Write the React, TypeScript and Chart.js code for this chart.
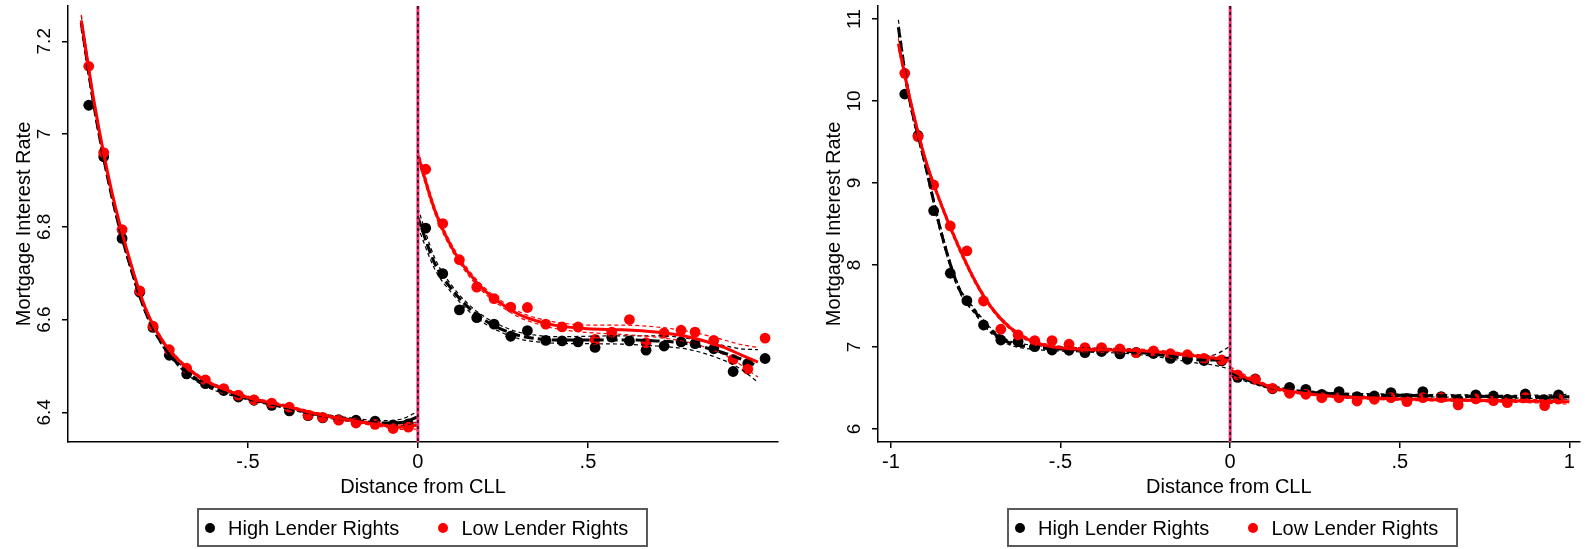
import React, { useEffect, useRef } from "react";
import { Chart, registerables } from "chart.js";

Chart.register(...registerables);

const FONT = '"Liberation Sans", Arial, Helvetica, sans-serif';
const RED = "#ff0000";
const BLACK = "#000000";
const SERIES_NAMES = ["High Lender Rights", "Low Lender Rights"];
const X_TITLE = "Distance from CLL";
const Y_TITLE = "Mortgage Interest Rate";
const CUTOFF = 0;

// ---------- Left panel ----------
const X_TICKS_1 = [-0.5, 0, 0.5];
const X_TICK_LABELS_1 = ["-.5", "0", ".5"];
const Y_TICKS_1 = [6.4, 6.6, 6.8, 7, 7.2];
const Y_TICK_LABELS_1 = ["6.4", "6.6", "6.8", "7", "7.2"];

const BIN_X_1 = [
  -0.968, -0.924, -0.87, -0.818, -0.779, -0.731, -0.68, -0.625, -0.571, -0.528,
  -0.482, -0.43, -0.378, -0.323, -0.28, -0.233, -0.182, -0.126, -0.073, -0.028,
  0.023, 0.073, 0.122, 0.173, 0.224, 0.273, 0.322, 0.376, 0.424, 0.471,
  0.521, 0.57, 0.622, 0.671, 0.724, 0.774, 0.815, 0.87, 0.927, 0.97, 1.021,
];
const HIGH_1 = [
  7.062, 6.951, 6.775, 6.659, 6.583, 6.523, 6.483, 6.462, 6.447, 6.433,
  6.426, 6.415, 6.403, 6.393, 6.388, 6.384, 6.383, 6.381, 6.373, 6.375,
  6.797, 6.699, 6.621, 6.604, 6.59, 6.564, 6.576, 6.555, 6.554, 6.552,
  6.54, 6.562, 6.554, 6.534, 6.543, 6.552, 6.548, 6.537, 6.488, 6.505, 6.516,
];
const LOW_1 = [
  7.146, 6.96, 6.794, 6.662, 6.586, 6.535, 6.495, 6.47, 6.451, 6.437,
  6.427, 6.42, 6.411, 6.394, 6.389, 6.383, 6.377, 6.374, 6.365, 6.368,
  6.924, 6.807, 6.729, 6.67, 6.645, 6.627, 6.626, 6.59, 6.584, 6.584,
  6.557, 6.573, 6.6, 6.55, 6.571, 6.577, 6.573, 6.555, 6.514, 6.493, 6.56,
];

const FIT_XL_1 = [-0.99, -0.95, -0.9, -0.85, -0.8, -0.75, -0.7, -0.65, -0.6, -0.5, -0.4, -0.3, -0.2, -0.1, -0.05, 0];
const LOW_FIT_L_1 = [7.245, 7.06, 6.875, 6.735, 6.622, 6.553, 6.51, 6.48, 6.459, 6.432, 6.415, 6.397, 6.383, 6.372, 6.368, 6.372];
const LOW_HI_L_1 = [7.257, 7.066, 6.879, 6.739, 6.626, 6.557, 6.513, 6.483, 6.462, 6.435, 6.418, 6.4, 6.386, 6.376, 6.373, 6.38];
const LOW_LO_L_1 = [7.233, 7.054, 6.871, 6.731, 6.618, 6.549, 6.507, 6.477, 6.456, 6.429, 6.412, 6.394, 6.38, 6.368, 6.363, 6.364];
const HIGH_FIT_L_1 = [7.24, 7.05, 6.865, 6.725, 6.615, 6.545, 6.5, 6.47, 6.452, 6.43, 6.413, 6.396, 6.384, 6.377, 6.378, 6.39];
const HIGH_HI_L_1 = [7.255, 7.058, 6.87, 6.73, 6.619, 6.549, 6.504, 6.474, 6.456, 6.433, 6.416, 6.399, 6.388, 6.382, 6.385, 6.402];
const HIGH_LO_L_1 = [7.225, 7.042, 6.86, 6.72, 6.611, 6.541, 6.496, 6.466, 6.448, 6.427, 6.41, 6.393, 6.38, 6.372, 6.371, 6.378];

const FIT_XR_1 = [0, 0.05, 0.1, 0.15, 0.2, 0.25, 0.3, 0.35, 0.4, 0.5, 0.6, 0.7, 0.8, 0.9, 0.95, 1.0];
const LOW_FIT_R_1 = [6.955, 6.835, 6.755, 6.7, 6.66, 6.632, 6.61, 6.597, 6.588, 6.58, 6.578, 6.573, 6.562, 6.54, 6.524, 6.508];
const LOW_HI_R_1 = [6.965, 6.842, 6.761, 6.706, 6.666, 6.638, 6.616, 6.603, 6.595, 6.588, 6.588, 6.584, 6.574, 6.556, 6.546, 6.54];
const LOW_LO_R_1 = [6.945, 6.828, 6.749, 6.694, 6.654, 6.626, 6.604, 6.591, 6.581, 6.572, 6.568, 6.562, 6.55, 6.524, 6.502, 6.476];
const HIGH_FIT_R_1 = [6.82, 6.72, 6.665, 6.625, 6.597, 6.578, 6.565, 6.559, 6.556, 6.556, 6.556, 6.554, 6.547, 6.528, 6.515, 6.5];
const HIGH_HI_R_1 = [6.84, 6.732, 6.673, 6.632, 6.604, 6.585, 6.572, 6.566, 6.563, 6.564, 6.565, 6.565, 6.559, 6.544, 6.537, 6.535];
const HIGH_LO_R_1 = [6.8, 6.708, 6.657, 6.618, 6.59, 6.571, 6.558, 6.552, 6.549, 6.548, 6.547, 6.543, 6.535, 6.512, 6.493, 6.465];

// ---------- Right panel ----------
const X_TICKS_2 = [-1, -0.5, 0, 0.5, 1];
const X_TICK_LABELS_2 = ["-1", "-.5", "0", ".5", "1"];
const Y_TICKS_2 = [6, 7, 8, 9, 10, 11];
const Y_TICK_LABELS_2 = ["6", "7", "8", "9", "10", "11"];

const BIN_X_2 = [
  -0.959, -0.92, -0.874, -0.825, -0.776, -0.727, -0.676, -0.625, -0.576, -0.525,
  -0.475, -0.428, -0.379, -0.325, -0.277, -0.226, -0.176, -0.126, -0.077, -0.025,
  0.022, 0.074, 0.125, 0.175, 0.223, 0.27, 0.321, 0.374, 0.425, 0.474,
  0.521, 0.568, 0.622, 0.672, 0.724, 0.776, 0.817, 0.87, 0.927, 0.968,
];
const HIGH_2 = [
  10.085, 9.58, 8.662, 7.899, 7.565, 7.268, 7.085, 7.065, 7.004, 6.963,
  6.96, 6.93, 6.945, 6.915, 6.935, 6.92, 6.86, 6.85, 6.835, 6.83,
  6.63, 6.61, 6.49, 6.508, 6.484, 6.423, 6.455, 6.394, 6.402, 6.443,
  6.374, 6.455, 6.395, 6.354, 6.415, 6.402, 6.36, 6.427, 6.354, 6.415,
];
const LOW_2 = [
  10.338, 9.565, 8.976, 8.476, 8.171, 7.561, 7.216, 7.146, 7.077, 7.077,
  7.033, 6.992, 6.992, 6.976, 6.93, 6.951, 6.918, 6.905, 6.86, 6.841,
  6.659, 6.604, 6.496, 6.435, 6.423, 6.382, 6.382, 6.341, 6.362, 6.382,
  6.333, 6.382, 6.382, 6.293, 6.366, 6.345, 6.321, 6.382, 6.285, 6.366,
];

const FIT_XL_2 = [-0.978, -0.95, -0.9, -0.85, -0.8, -0.75, -0.7, -0.65, -0.6, -0.55, -0.5, -0.4, -0.3, -0.2, -0.1, -0.05, 0];
const LOW_FIT_L_2 = [10.7, 10.14, 9.31, 8.72, 8.22, 7.79, 7.46, 7.24, 7.1, 7.025, 6.99, 6.965, 6.96, 6.935, 6.89, 6.865, 6.835];
const LOW_HI_L_2 = [10.76, 10.18, 9.34, 8.75, 8.25, 7.815, 7.48, 7.26, 7.12, 7.045, 7.01, 6.985, 6.98, 6.955, 6.91, 6.89, 6.865];
const LOW_LO_L_2 = [10.64, 10.1, 9.28, 8.69, 8.19, 7.765, 7.44, 7.22, 7.08, 7.005, 6.97, 6.945, 6.94, 6.915, 6.87, 6.84, 6.805];
const HIGH_FIT_L_2 = [10.9, 10.13, 9.25, 8.37, 7.72, 7.42, 7.18, 7.05, 7.005, 6.985, 6.975, 6.96, 6.945, 6.9, 6.845, 6.84, 6.87];
const HIGH_HI_L_2 = [10.99, 10.19, 9.29, 8.41, 7.75, 7.45, 7.21, 7.075, 7.03, 7.01, 7.0, 6.985, 6.97, 6.93, 6.885, 6.9, 7.01];
const HIGH_LO_L_2 = [10.81, 10.07, 9.21, 8.33, 7.69, 7.39, 7.15, 7.025, 6.98, 6.96, 6.95, 6.935, 6.92, 6.87, 6.805, 6.78, 6.73];

const FIT_XR_2 = [0, 0.05, 0.1, 0.15, 0.2, 0.3, 0.4, 0.5, 0.6, 0.7, 0.8, 0.9, 1.0];
const LOW_FIT_R_2 = [6.72, 6.62, 6.54, 6.48, 6.445, 6.4, 6.38, 6.365, 6.357, 6.35, 6.343, 6.338, 6.333];
const LOW_HI_R_2 = [6.76, 6.645, 6.56, 6.5, 6.46, 6.415, 6.395, 6.38, 6.372, 6.365, 6.358, 6.358, 6.363];
const LOW_LO_R_2 = [6.68, 6.595, 6.52, 6.46, 6.43, 6.385, 6.365, 6.35, 6.342, 6.335, 6.328, 6.318, 6.303];
const HIGH_FIT_R_2 = [6.69, 6.6, 6.53, 6.485, 6.46, 6.43, 6.415, 6.41, 6.405, 6.4, 6.395, 6.392, 6.392];
const HIGH_HI_R_2 = [6.73, 6.625, 6.55, 6.505, 6.475, 6.445, 6.43, 6.425, 6.42, 6.415, 6.41, 6.412, 6.422];
const HIGH_LO_R_2 = [6.65, 6.575, 6.51, 6.465, 6.445, 6.415, 6.4, 6.395, 6.39, 6.385, 6.38, 6.372, 6.362];

// ---------- helpers ----------
const pts = (xs: number[], ys: number[]) => xs.map((x, i) => ({ x, y: ys[i] }));

const scatterDs = (label: string, xs: number[], ys: number[], color: string, order: number) => ({
  type: "scatter" as const,
  label,
  data: pts(xs, ys),
  backgroundColor: color,
  borderColor: color,
  borderWidth: 0,
  pointRadius: 5.4,
  pointHoverRadius: 5.4,
  showLine: false,
  order,
});

const lineDs = (xs: number[], ys: number[], color: string, width: number, dash: number[], order: number) => ({
  type: "line" as const,
  data: pts(xs, ys),
  borderColor: color,
  backgroundColor: color,
  borderWidth: width,
  borderDash: dash,
  pointRadius: 0,
  pointHoverRadius: 0,
  fill: false,
  tension: 0.4,
  cubicInterpolationMode: "monotone" as const,
  order,
});

const cutoffPlugin = {
  id: "cutoffLine",
  afterDatasetsDraw(chart: any) {
    const { ctx, chartArea, scales } = chart;
    const px = scales.x.getPixelForValue(CUTOFF);
    ctx.save();
    ctx.beginPath();
    ctx.moveTo(px, chartArea.top);
    ctx.lineTo(px, chartArea.bottom);
    ctx.strokeStyle = "#e8336e";
    ctx.lineWidth = 3;
    ctx.stroke();
    ctx.setLineDash([3, 3]);
    ctx.strokeStyle = "#2a1016";
    ctx.lineWidth = 1.6;
    ctx.stroke();
    ctx.restore();
  },
};

type PanelProps = {
  width: number;
  height: number;
  left: number;
  yAxisWidth: number;
  yTitlePad: number;
  yTickPad: number;
  padRight: number;
  xMin: number;
  xMax: number;
  yMin: number;
  yMax: number;
  xTicks: number[];
  xTickLabels: string[];
  yTicks: number[];
  yTickLabels: string[];
  datasets: any[];
};

function Panel(p: PanelProps) {
  const ref = useRef<HTMLCanvasElement>(null);
  useEffect(() => {
    if (!ref.current) return;
    const chart = new Chart(ref.current, {
      type: "scatter",
      data: { datasets: p.datasets },
      plugins: [cutoffPlugin],
      options: {
        animation: false,
        responsive: false,
        devicePixelRatio: 1,
        layout: { padding: { top: 6, right: p.padRight, bottom: 50, left: 0 } },
        plugins: { legend: { display: false }, tooltip: { enabled: false } },
        events: [],
        scales: {
          x: {
            type: "linear",
            min: p.xMin,
            max: p.xMax,
            afterBuildTicks: (s: any) => {
              s.ticks = p.xTicks.map((v) => ({ value: v }));
            },
            afterFit: (s: any) => {
              s.height = 57;
              s.paddingLeft = 0;
              s.paddingRight = 0;
            },
            ticks: {
              autoSkip: false,
              maxRotation: 0,
              minRotation: 0,
              padding: 2,
              color: "#000",
              font: { family: FONT, size: 20 },
              callback: (v: any) => {
                const i = p.xTicks.indexOf(Number(v));
                return i >= 0 ? p.xTickLabels[i] : "";
              },
            },
            grid: {
              display: true,
              drawOnChartArea: false,
              drawTicks: true,
              tickLength: 6,
              color: "#000",
              lineWidth: 1.5,
            },
            border: { display: true, color: "#000", width: 1.5 },
            title: {
              display: true,
              text: X_TITLE,
              color: "#000",
              font: { family: FONT, size: 20 },
              padding: { top: 0, bottom: 0 },
            },
          },
          y: {
            type: "linear",
            min: p.yMin,
            max: p.yMax,
            afterBuildTicks: (s: any) => {
              s.ticks = p.yTicks.map((v) => ({ value: v }));
            },
            afterFit: (s: any) => {
              s.width = p.yAxisWidth;
              s.paddingTop = 0;
              s.paddingBottom = 0;
            },
            ticks: {
              autoSkip: false,
              minRotation: 90,
              maxRotation: 90,
              crossAlign: "center",
              padding: p.yTickPad,
              color: "#000",
              font: { family: FONT, size: 19 },
              callback: (v: any) => {
                const i = p.yTicks.indexOf(Number(v));
                return i >= 0 ? p.yTickLabels[i] : "";
              },
            },
            grid: {
              display: true,
              drawOnChartArea: false,
              drawTicks: true,
              tickLength: 6,
              color: "#000",
              lineWidth: 1.5,
            },
            border: { display: true, color: "#000", width: 1.5 },
            title: {
              display: true,
              text: Y_TITLE,
              color: "#000",
              font: { family: FONT, size: 20 },
              padding: { top: p.yTitlePad, bottom: 0 },
            },
          },
        },
      } as any,
    });
    return () => chart.destroy();
  }, []);
  return (
    <canvas
      ref={ref}
      width={p.width}
      height={p.height}
      style={{ position: "absolute", left: p.left, top: 0, width: p.width, height: p.height }}
    />
  );
}

function buildDatasets(
  binX: number[], high: number[], low: number[],
  fxl: number[], lowFitL: number[], lowHiL: number[], lowLoL: number[],
  highFitL: number[], highHiL: number[], highLoL: number[],
  fxr: number[], lowFitR: number[], lowHiR: number[], lowLoR: number[],
  highFitR: number[], highHiR: number[], highLoR: number[],
) {
  const ciDash = [4, 3];
  const blackDash = [10, 4];
  return [
    lineDs(fxl, lowFitL, RED, 3, [], 1),
    lineDs(fxr, lowFitR, RED, 3, [], 1),
    lineDs(fxl, highFitL, BLACK, 3, blackDash, 2),
    lineDs(fxr, highFitR, BLACK, 3, blackDash, 2),
    lineDs(fxl, lowHiL, RED, 1.2, ciDash, 3),
    lineDs(fxl, lowLoL, RED, 1.2, ciDash, 3),
    lineDs(fxr, lowHiR, RED, 1.2, ciDash, 3),
    lineDs(fxr, lowLoR, RED, 1.2, ciDash, 3),
    lineDs(fxl, highHiL, BLACK, 1.2, ciDash, 4),
    lineDs(fxl, highLoL, BLACK, 1.2, ciDash, 4),
    lineDs(fxr, highHiR, BLACK, 1.2, ciDash, 4),
    lineDs(fxr, highLoR, BLACK, 1.2, ciDash, 4),
    scatterDs(SERIES_NAMES[1], binX, low, RED, 5),
    scatterDs(SERIES_NAMES[0], binX, high, BLACK, 6),
  ];
}

function Legend({ left }: { left: number }) {
  const text = (x: number, s: string) => (
    <div
      style={{
        position: "absolute",
        left: left + x,
        top: 518,
        fontFamily: FONT,
        fontSize: 20,
        lineHeight: "20px",
        color: "#000",
        whiteSpace: "nowrap",
      }}
    >
      {s}
    </div>
  );
  const dot = (x: number, color: string) => (
    <div
      style={{
        position: "absolute",
        left: left + x - 5,
        top: 523,
        width: 10,
        height: 10,
        borderRadius: "50%",
        background: color,
      }}
    />
  );
  return (
    <>
      <div
        style={{
          position: "absolute",
          left,
          top: 508,
          width: 451,
          height: 39,
          boxSizing: "border-box",
          border: "2px solid #5a5a5a",
        }}
      />
      {dot(13, BLACK)}
      {text(31, SERIES_NAMES[0])}
      {dot(246, RED)}
      {text(264.5, SERIES_NAMES[1])}
    </>
  );
}

export default function App() {
  const ds1 = buildDatasets(
    BIN_X_1, HIGH_1, LOW_1,
    FIT_XL_1, LOW_FIT_L_1, LOW_HI_L_1, LOW_LO_L_1, HIGH_FIT_L_1, HIGH_HI_L_1, HIGH_LO_L_1,
    FIT_XR_1, LOW_FIT_R_1, LOW_HI_R_1, LOW_LO_R_1, HIGH_FIT_R_1, HIGH_HI_R_1, HIGH_LO_R_1,
  );
  const ds2 = buildDatasets(
    BIN_X_2, HIGH_2, LOW_2,
    FIT_XL_2, LOW_FIT_L_2, LOW_HI_L_2, LOW_LO_L_2, HIGH_FIT_L_2, HIGH_HI_L_2, HIGH_LO_L_2,
    FIT_XR_2, LOW_FIT_R_2, LOW_HI_R_2, LOW_LO_R_2, HIGH_FIT_R_2, HIGH_HI_R_2, HIGH_LO_R_2,
  );
  return (
    <div
      style={{
        position: "absolute",
        left: 0,
        top: 0,
        width: 1585,
        height: 549,
        background: "#fff",
        overflow: "hidden",
      }}
    >
      <Panel
        width={790}
        height={549}
        left={0}
        yAxisWidth={68}
        yTitlePad={12}
        yTickPad={4.3}
        padRight={12}
        xMin={-1.029}
        xMax={1.059}
        yMin={6.336}
        yMax={7.276}
        xTicks={X_TICKS_1}
        xTickLabels={X_TICK_LABELS_1}
        yTicks={Y_TICKS_1}
        yTickLabels={Y_TICK_LABELS_1}
        datasets={ds1}
      />
      <Panel
        width={795}
        height={549}
        left={790}
        yAxisWidth={88}
        yTitlePad={32}
        yTickPad={6.4}
        padRight={0}
        xMin={-1.038}
        xMax={1.03}
        yMin={5.841}
        yMax={11.159}
        xTicks={X_TICKS_2}
        xTickLabels={X_TICK_LABELS_2}
        yTicks={Y_TICKS_2}
        yTickLabels={Y_TICK_LABELS_2}
        datasets={ds2}
      />
      <Legend left={197} />
      <Legend left={1007} />
    </div>
  );
}
